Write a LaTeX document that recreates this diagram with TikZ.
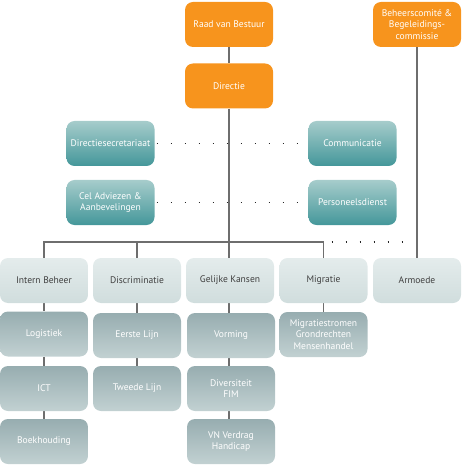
\documentclass[tikz,border=0pt]{standalone}
\usepackage{fontspec}
\setmainfont{PT Sans}
\usetikzlibrary{backgrounds}
\definecolor{org}{HTML}{F7941D}
\definecolor{tealtop}{HTML}{A6CCCB}
\definecolor{tealbot}{HTML}{44979A}
\definecolor{ltop}{HTML}{E4ECEC}
\definecolor{lbot}{HTML}{D0DDDD}
\definecolor{gtop}{HTML}{97ADB0}
\definecolor{gbot}{HTML}{C2D1D2}
\definecolor{linec}{HTML}{6E6E6E}
\tikzset{
  box/.style={rectangle, rounded corners=8bp, minimum width=88bp, minimum height=45bp,
    inner sep=1bp, align=center, font=\fontsize{9.6}{11.7}\selectfont, text=white},
  orangebox/.style={box, fill=org},
  tealbox/.style={box, top color=tealtop, bottom color=tealbot},
  lvltwo/.style={box, top color=ltop, bottom color=lbot, text=black!75},
  lvlthree/.style={box, top color=gtop, bottom color=gbot},
  conn/.style={draw=linec, line width=1.6bp},
  dotconn/.style={draw=black!85, line width=1.5bp, dash pattern=on 1.5bp off 12.5bp},
}
\begin{document}
\begin{tikzpicture}[x=1bp,y=-1bp]
\useasboundingbox (0,0) rectangle (462,465);
% top
\node[orangebox] (raad) at (229,24.5) {Raad van Bestuur};
\node[orangebox] (behe) at (417,24.5) {Beheerscomité \&\\Begeleidings-\\commissie};
\node[orangebox] (dir) at (229,86) {Directie};
% staff
\node[tealbox] (dsec) at (110.5,143.5) {Directiesecretariaat};
\node[tealbox] (comm) at (352.5,143.5) {Communicatie};
\node[tealbox] (cel) at (110.5,202.5) {Cel Adviezen \&\\Aanbevelingen};
\node[tealbox] (pers) at (352.5,202.5) {Personeelsdienst};
% level 2
\node[lvltwo] (ib) at (44,280.5) {Intern Beheer};
\node[lvltwo] (disc) at (137,280.5) {Discriminatie};
\node[lvltwo] (gk) at (230,280.5) {Gelijke Kansen};
\node[lvltwo] (mig) at (323.5,280.5) {Migratie};
\node[lvltwo] (arm) at (417,280.5) {Armoede};
% level 3
\node[lvlthree] (log) at (44,334) {Logistiek};
\node[lvlthree] (ict) at (44,388.5) {ICT};
\node[lvlthree] (boek) at (44,441.5) {Boekhouding};
\node[lvlthree] (eer) at (137,335.5) {Eerste Lijn};
\node[lvlthree] (twe) at (137,388.5) {Tweede Lijn};
\node[lvlthree] (vor) at (231,335.5) {Vorming};
\node[lvlthree] (div) at (231,388.5) {Diversiteit\\FIM};
\node[lvlthree] (vn) at (231,441.5) {VN Verdrag\\Handicap};
\node[lvlthree] (mst) at (323.5,334.5) {Migratiestromen\\Grondrechten\\Mensenhandel};
\coordinate (bus) at (229,242);
\coordinate (dotend) at (409,242);
% connectors (behind boxes)
\begin{scope}[on background layer]
\draw[conn] (raad.south) -- (dir.north);
\draw[conn] (dir.south) -- (dir.south |- gk.north);
\draw[conn] (behe.south) -- (arm.north);
\draw[conn] (ib.north) -- (ib.north |- bus) -- (mig.north |- bus) -- (mig.north);
\draw[conn] (disc.north) -- (disc.north |- bus);
\draw[conn] (ib.south) -- (log.north);
\draw[conn] (log.south) -- (ict.north);
\draw[conn] (ict.south) -- (boek.north);
\draw[conn] (disc.south) -- (eer.north);
\draw[conn] (eer.south) -- (twe.north);
\draw[conn] (dir.south |- gk.south) -- (dir.south |- vor.north);
\draw[conn] (dir.south |- vor.south) -- (dir.south |- div.north);
\draw[conn] (dir.south |- div.south) -- (dir.south |- vn.north);
\draw[conn] (mig.south) -- (mst.north);
\end{scope}
\draw[dotconn] ([xshift=2bp]dsec.east) -- ([xshift=-8bp]comm.west);
\draw[dotconn] ([xshift=2bp]cel.east) -- ([xshift=-8bp]pers.west);
\draw[dotconn] ([xshift=8bp]mig.north |- bus) -- (dotend);
\end{tikzpicture}
\end{document}
